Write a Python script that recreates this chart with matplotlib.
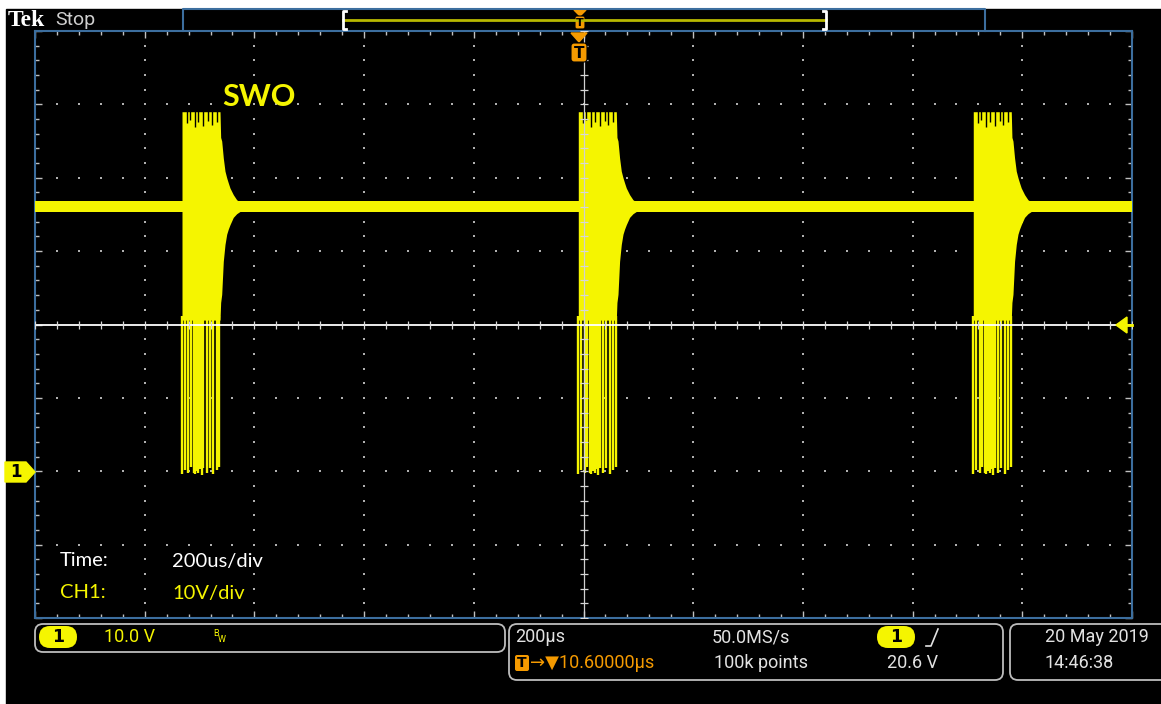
import numpy as np
import matplotlib
matplotlib.use("Agg")
from matplotlib import pyplot as plt
from matplotlib.patches import Rectangle, FancyBboxPatch, Polygon

# screen size in pixels
W, H = 1161, 704

# scope settings (per division)
time_div = 200.0   # us/div
volt_div = 10.0    # V/div
n_xdiv, n_ydiv = 10, 8
center_v = 20.0    # volts at screen centre (ground marker is 2 div below)

# --- trace data ---
baseline_v = 36.1
baseline_half = 0.7
burst_starts = [-732.0, -9.5, 710.6]          # us

# burst envelope, time offset from burst start (us)
env_t   = [0, 69.3, 70.5, 72.4, 75.3, 78.4, 81.5, 84.4, 87.5, 93.5, 99.7, 105.7]
env_top = [49.0, 49.0, 45.5, 45.0, 42.7, 40.9, 40.0, 39.3, 38.6, 37.7, 37.0, 36.7]
env_bot = [20.6, 20.6, 23.0, 24.1, 28.6, 30.9, 32.3, 33.0, 33.6, 34.6, 35.1, 35.4]

# low-going pulses under each burst
spike_t   = [0, 5.5, 11.5, 15.9, 21, 24, 27, 30, 33, 35.9, 38.8, 45, 51, 57.1, 63.3, 68]
spike_bot = [-0.4, 0.2, -0.3, 0.6, -0.2, -0.4, 0.1, -0.3, 0.3, -0.5, 0.4, -0.2, 0.5, -0.4, 0.2, 0.6]

# dark notches along the top of each burst
notch_t   = [8.5, 14.6, 23.7, 29.7, 38.8, 47.9, 54.1, 63.3]
notch_bot = [47.5, 47.9, 46.9, 47.6, 47.0, 47.8, 47.2, 47.6]

YEL = "#f5f500"
ORG = "#f59a00"
BLUE = "#3c6e9e"
GRID = "#b0b0b0"
TXT = "#e2e2e2"
BOX = "#bdbdbd"

fig = plt.figure(figsize=(W / 100, H / 100), dpi=100, facecolor="white")

# black screen background
bg = fig.add_axes([0, 0, 1, 1])
bg.set_xlim(0, W)
bg.set_ylim(H, 0)
bg.axis("off")
bg.add_patch(Rectangle((6, 9), W - 6, H - 9, color="black"))

# graticule
gx0, gx1, gy0, gy1 = 35, 1132, 31, 618
ax = fig.add_axes([gx0 / W, 1 - gy1 / H, (gx1 - gx0) / W, (gy1 - gy0) / H])
ax.set_facecolor("black")
xmin, xmax = -time_div * n_xdiv / 2, time_div * n_xdiv / 2
ymin, ymax = center_v - volt_div * n_ydiv / 2, center_v + volt_div * n_ydiv / 2
ax.set_xlim(xmin, xmax)
ax.set_ylim(ymin, ymax)
for s in ax.spines.values():
    s.set_color(BLUE)
    s.set_linewidth(1.5)
ax.set_xticks(np.arange(xmin, xmax + 1, time_div))
ax.set_yticks(np.arange(ymin, ymax + 1, volt_div))
ax.set_xticks(np.arange(xmin, xmax + 1, time_div / 5), minor=True)
ax.set_yticks(np.arange(ymin, ymax + 1, volt_div / 5), minor=True)
ax.tick_params(which="both", direction="in", color="#c0c0c0", top=True, right=True,
               labelbottom=False, labelleft=False)
ax.tick_params(which="major", length=5, width=1)
ax.tick_params(which="minor", length=3, width=1)

# dotted division lines
minor_x = np.arange(xmin, xmax + 1, time_div / 5)
minor_y = np.arange(ymin, ymax + 1, volt_div / 5)
for xv in np.arange(xmin + time_div, xmax, time_div):
    if xv == 0:
        continue
    ax.plot(np.full_like(minor_y, xv), minor_y, ls="none", marker="s", ms=1.5,
            mew=0, color=GRID, zorder=1)
for yv in np.arange(ymin + volt_div, ymax, volt_div):
    if yv == center_v:
        continue
    ax.plot(minor_x, np.full_like(minor_x, yv), ls="none", marker="s", ms=1.5,
            mew=0, color=GRID, zorder=1)

# baseline
ax.fill_between([xmin, xmax], baseline_v - baseline_half, baseline_v + baseline_half,
                color=YEL, lw=0, zorder=3)

# bursts
for s in burst_starts:
    t = s + np.array(env_t)
    ax.fill_between(t, env_bot, env_top, color=YEL, lw=0, zorder=3)
    ax.vlines(s + np.array(spike_t), spike_bot, env_bot[0] + 0.6, color=YEL,
              lw=1.7, zorder=3)
    ax.vlines(s + np.array(notch_t), notch_bot, env_top[0] + 0.1, color="black",
              lw=1.0, zorder=4)

# centre cross
ax.axvline(0, color="#d0d0d0", lw=0.9, zorder=5)
ax.plot(np.zeros_like(minor_y), minor_y, ls="none", marker="_", ms=6, mew=0.9,
        color="#d8d8d8", zorder=5)
ax.axhline(center_v, color="white", lw=1.3, zorder=5)
ax.plot(minor_x, np.full_like(minor_x, center_v), ls="none", marker="|", ms=6,
        mew=0.9, color="#d8d8d8", zorder=5)

# overlay in pixel coords
ov = fig.add_axes([0, 0, 1, 1])
ov.set_xlim(0, W)
ov.set_ylim(H, 0)
ov.axis("off")
ov.patch.set_alpha(0)

ov.text(222, 97, "SWO", color=YEL, fontsize=22, fontweight="bold", family="Lato",
        va="center", ha="left")
ov.text(60, 561, "Time:", color="white", fontsize=14.5, family="Lato", va="center")
ov.text(172, 561, "200us/div", color="white", fontsize=14.5, family="Lato", va="center")
ov.text(60, 593, "CH1:", color=YEL, fontsize=14.5, family="Lato", va="center")
ov.text(172, 593, "10V/div", color=YEL, fontsize=14.5, family="Lato", va="center")

# top bar
ov.text(8, 20, "Tek", color="white", fontsize=17, fontweight="bold",
        family="Liberation Serif", va="center")
ov.text(55, 20, "Stop", color="#cfcfcf", fontsize=14, family="Roboto", va="center")
ov.plot([183, 183, 985, 985], [31, 9, 9, 31], color=BLUE, lw=1.5)
ov.plot([343, 826], [19.5, 19.5], color="#b8b800", lw=2)
for bx, d in [(343, 3), (826, -3)]:
    ov.plot([bx + d, bx, bx, bx + d], [11, 11, 29, 29], color="white", lw=2)
# trigger position markers
ov.add_patch(Polygon([(574, 10), (586, 10), (580, 16)], color=ORG))
ov.add_patch(FancyBboxPatch((575, 16), 10, 13, boxstyle="round,pad=0,rounding_size=2",
                            fc=ORG, ec="black", lw=0.8))
ov.text(580, 23, "T", color="black", fontsize=8, fontweight="bold", ha="center", va="center")
ov.add_patch(Polygon([(571, 33), (587, 33), (579, 42)], color=ORG))
ov.add_patch(FancyBboxPatch((571, 43), 16, 19, boxstyle="round,pad=0,rounding_size=3",
                            fc=ORG, ec="black", lw=0.8))
ov.text(579, 53, "T", color="black", fontsize=11, fontweight="bold", ha="center", va="center")

# channel 1 ground marker
gy = 472
ov.add_patch(Polygon([(5, gy - 10), (26, gy - 10), (35, gy), (26, gy + 10), (5, gy + 10)],
                     color=YEL))
ov.text(16, gy, "1", color="black", fontsize=12, fontweight="bold", ha="center", va="center")
# trigger level marker
ov.add_patch(Polygon([(1116, 325), (1127, 317), (1127, 333)], color=YEL))
ov.plot([1126, 1132], [325, 325], color=YEL, lw=2)

# status bar
def box(x0, y0, x1, y1):
    ov.add_patch(FancyBboxPatch((x0, y0), x1 - x0, y1 - y0,
                                boxstyle="round,pad=0,rounding_size=8",
                                fc="black", ec=BOX, lw=1.3))

def pill(xc, yc):
    ov.add_patch(FancyBboxPatch((xc - 19, yc - 11), 38, 22,
                                boxstyle="round,pad=0,rounding_size=11",
                                fc=YEL, ec="none"))
    ov.text(xc, yc + 0.5, "1", color="black", fontsize=12.5, fontweight="bold",
            ha="center", va="center")

box(35, 624, 505, 652)
box(509, 624, 1003, 680)
box(1010, 624, 1175, 680)

sfont = ["Roboto", "DejaVu Sans"]
row1, row2 = 637, 663
pill(58, row1)
ov.text(104, row1, "10.0 V", color=YEL, fontsize=13, family=sfont, va="center")
ov.text(213, row1 - 3, "B", color=YEL, fontsize=6.5, family=sfont, va="center")
ov.text(218, row1 + 2, "W", color=YEL, fontsize=6.5, family=sfont, va="center")

ov.text(515, row1, "200\u00b5s", color=TXT, fontsize=13, family=sfont, va="center")
ov.text(712, row1, "50.0MS/s", color=TXT, fontsize=13, family=sfont, va="center")
pill(896, row1)
ov.plot([926, 931, 938], [646, 646, 629], color=TXT, lw=1.2)

ov.add_patch(FancyBboxPatch((515, 655), 14, 16, boxstyle="round,pad=0,rounding_size=2",
                            fc=ORG, ec="none"))
ov.text(522, 663, "T", color="black", fontsize=10, fontweight="bold", ha="center", va="center")
ov.text(530, row2, "\u2192\u25bc10.60000\u00b5s", color=ORG, fontsize=13, family=sfont,
        va="center")
ov.text(714, row2, "100k points", color=TXT, fontsize=13, family=sfont, va="center")
ov.text(887, row2, "20.6 V", color=TXT, fontsize=13, family=sfont, va="center")

ov.text(1045, row1, "20 May 2019", color=TXT, fontsize=13, family=sfont, va="center")
ov.text(1045, row2, "14:46:38", color=TXT, fontsize=13, family=sfont, va="center")

fig.savefig("out.png", dpi=100, facecolor="white")
